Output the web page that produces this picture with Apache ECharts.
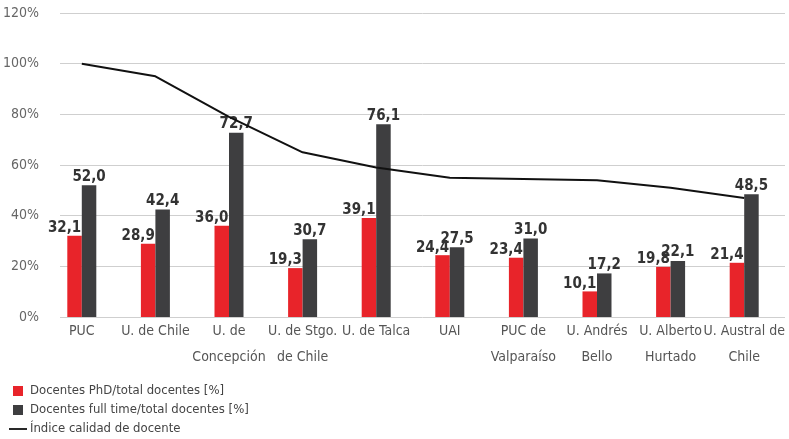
<!DOCTYPE html>
<html><head><meta charset="utf-8">
<script src="https://cdn.jsdelivr.net/npm/echarts@6/dist/echarts.min.js"></script>
<style>html,body{margin:0;padding:0;background:#fff}#c{width:789px;height:439px}</style>
</head><body><div id="c"></div>
<script>
var categories = ['PUC', 'U. de Chile', 'U. de\nConcepción', 'U. de Stgo.\nde Chile', 'U. de Talca', 'UAI', 'PUC de\nValparaíso', 'U. Andrés\nBello', 'U. Alberto\nHurtado', 'U. Austral de\nChile'];
var phdValues = [32.1, 28.9, 36.0, 19.3, 39.1, 24.4, 23.4, 10.1, 19.8, 21.4];
var fullTimeValues = [52.0, 42.4, 72.7, 30.7, 76.1, 27.5, 31.0, 17.2, 22.1, 48.5];
var qualityIndex = [100, 95, 79, 65, 59, 55, 54.5, 54, 51, 47];
var yTicks = [0, 20, 40, 60, 80, 100, 120];
var seriesNames = ['Docentes PhD/total docentes [%]', 'Docentes full time/total docentes [%]', 'Índice calidad de docente'];

var FONT = "'DejaVu Sans Condensed','Liberation Sans Narrow','Roboto Condensed',sans-serif";
function fmt(p){ return p.value.toFixed(1).replace('.', ','); }
var chart = echarts.init(document.getElementById('c'));
chart.setOption({
  animation: false,
  textStyle: {fontFamily: FONT},
  grid: [
    {left: 45, right: 8, top: 13, bottom: 122},
    {left: 60, right: 4, top: 13, bottom: 122}
  ],
  legend: {
    orient: 'vertical', left: 4, top: 379, itemGap: 5, itemWidth: 18, itemHeight: 10,
    height: 70,
    textStyle: {fontFamily: FONT, fontSize: 13, color: '#444', lineHeight: 14, padding: [0,0,0,-2]},
    data: [
      {name: seriesNames[0], icon: 'path://M0,0h10v10h-10z'},
      {name: seriesNames[1], icon: 'path://M0,0h10v10h-10z'},
      {name: seriesNames[2], icon: 'path://M0,0h20v2h-20z', itemStyle: {color: '#111'}}
    ]
  },
  xAxis: [
    {type: 'category', gridIndex: 0, data: categories,
      axisLine: {show: false}, axisTick: {show: false},
      axisLabel: {fontFamily: FONT, fontSize: 14, color: '#555', lineHeight: 26, margin: 1, interval: 0}},
    {type: 'value', gridIndex: 1, show: false}
  ],
  yAxis: [
    {type: 'value', gridIndex: 0, min: 0, max: 120, interval: 20, show: false, splitLine: {show: false}},
    {type: 'value', gridIndex: 1, min: yTicks[0], max: yTicks[yTicks.length-1], interval: 20,
      axisLine: {show: false}, axisTick: {show: false},
      axisLabel: {fontFamily: FONT, fontSize: 14, color: '#666', margin: 21, formatter: '{value}%'},
      splitLine: {lineStyle: {color: '#cfcfcf', width: 1}}}
  ],
  series: [
    {name: seriesNames[0], type: 'bar', xAxisIndex: 0, yAxisIndex: 0, data: phdValues,
      barWidth: 14.5, barGap: '0%', itemStyle: {color: '#e8242a'},
      label: {show: true, position: 'top', offset: [-10, 2], distance: 2, formatter: fmt,
        fontFamily: FONT, fontSize: 15, fontWeight: 'bold', color: '#333'}},
    {name: seriesNames[1], type: 'bar', xAxisIndex: 0, yAxisIndex: 0, data: fullTimeValues,
      barWidth: 14.5, barGap: '0%', itemStyle: {color: '#3e3e40'},
      label: {show: true, position: 'top', distance: 1, formatter: fmt,
        fontFamily: FONT, fontSize: 15, fontWeight: 'bold', color: '#333'}},
    {name: seriesNames[2], type: 'line', xAxisIndex: 0, yAxisIndex: 0, data: qualityIndex,
      symbol: 'none', lineStyle: {color: '#111', width: 2}, itemStyle: {color: '#111'}, z: 5}
  ]
});
</script></body></html>
